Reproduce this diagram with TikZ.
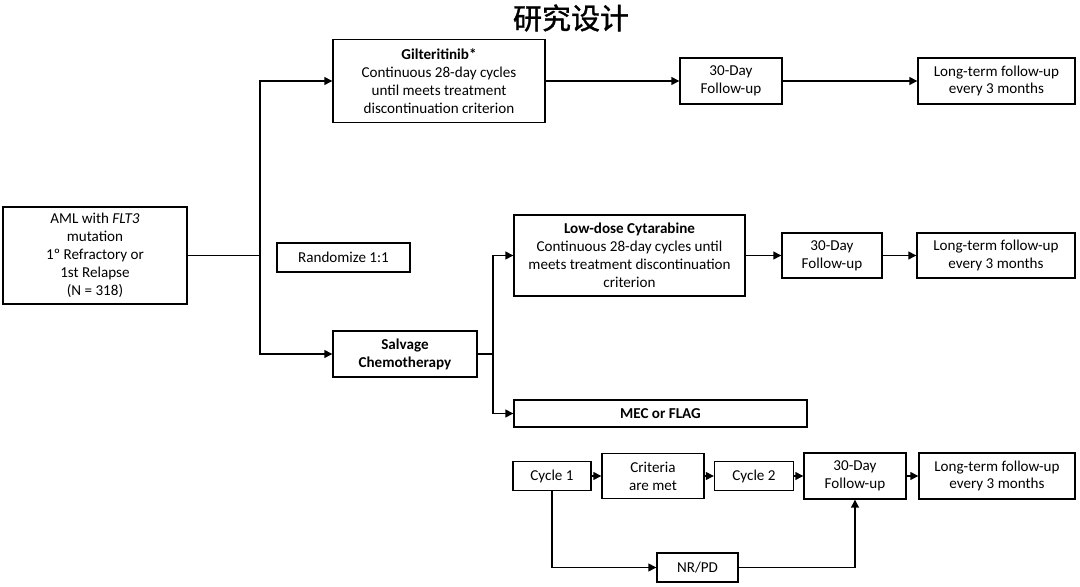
\documentclass[tikz,border=0pt]{standalone}
\usepackage{fontspec}
\setmainfont{Carlito}
\newfontfamily\cjk[FakeBold=1.3]{Noto Sans CJK SC}
\usepackage{tikz}
\usetikzlibrary{arrows.meta}

\begin{document}
\begin{tikzpicture}[x=0.02cm, y=-0.02cm,
        caja/.style={draw, line width=0.8pt, align=center, inner sep=1pt,
            font=\fontsize{8.6}{10.2}\selectfont},
        flecha/.style={line width=0.7pt, -{Triangle[length=4.5pt,width=4.5pt]}},
        linea/.style={line width=0.7pt}]
        \useasboundingbox (0,0) rectangle (1080,587);

        % Titulo
        \node[font=\cjk\fontsize{16.5}{18}\selectfont] (titulo) at (571,18) {研究设计};

        % Poblacion y aleatorizacion
        \node[caja, minimum width=3.68cm, minimum height=1.94cm] (aml) at (95,255.5)
            {AML with \textit{FLT3}\\mutation\\1º Refractory or\\1st Relapse\\(N = 318)};
        \node[caja, minimum width=2.66cm, minimum height=0.58cm] (rand) at (343.5,257.5) {Randomize 1:1};

        % Rama gilteritinib
        \node[caja, minimum width=4.24cm, minimum height=1.66cm] (gilt) at (439,81)
            {\textbf{Gilteritinib*}\\Continuous 28-day cycles\\until meets treatment\\discontinuation criterion};
        \node[caja, minimum width=2.04cm, minimum height=0.92cm] (segA) at (731,81) {30-Day\\Follow-up};
        \node[caja, minimum width=3.14cm, minimum height=0.92cm] (largoA) at (996.5,81) {Long-term follow-up\\every 3 months};

        % Rama quimioterapia de rescate
        \node[caja, minimum width=2.88cm, minimum height=0.92cm] (salv) at (405,354) {\textbf{Salvage}\\\textbf{Chemotherapy}};
        \node[caja, minimum width=4.62cm, minimum height=1.62cm] (ldac) at (629.5,255.5)
            {\textbf{Low-dose Cytarabine}\\Continuous 28-day cycles until\\meets treatment discontinuation\\criterion};
        \node[caja, minimum width=2.0cm, minimum height=0.9cm] (segB) at (832,255.5) {30-Day\\Follow-up};
        \node[caja, minimum width=3.16cm, minimum height=0.9cm] (largoB) at (996,255.5) {Long-term follow-up\\every 3 months};
        \node[caja, minimum width=5.86cm, minimum height=0.54cm] (mec) at (660.5,413.5) {\textbf{MEC or FLAG}};

        % Ciclos MEC / FLAG
        \node[caja, minimum width=1.56cm, minimum height=0.58cm] (ciclo1) at (552,476) {Cycle 1};
        \node[caja, minimum width=2.04cm, minimum height=0.9cm] (crit) at (653,476) {Criteria\\are met};
        \node[caja, minimum width=1.58cm, minimum height=0.58cm] (ciclo2) at (754,476) {Cycle 2};
        \node[caja, minimum width=2.04cm, minimum height=0.92cm] (segC) at (855,476) {30-Day\\Follow-up};
        \node[caja, minimum width=3.12cm, minimum height=0.92cm] (largoC) at (997,476) {Long-term follow-up\\every 3 months};
        \node[caja, minimum width=1.62cm, minimum height=0.58cm] (nrpd) at (697.5,567.5) {NR/PD};

        % Bifurcaciones
        \coordinate (div1) at (260,255.5);
        \coordinate (div2) at (493,354);
        \draw[linea] (aml) -- (div1);
        \draw[flecha] (div1) |- (gilt);
        \draw[flecha] (div1) |- (salv);
        \draw[linea] (salv) -- (div2);
        \draw[flecha] (div2) |- (ldac);
        \draw[flecha] (div2) |- (mec);

        % Flechas horizontales
        \draw[flecha] (gilt) -- (segA);
        \draw[flecha] (segA) -- (largoA);
        \draw[flecha] (ldac) -- (segB);
        \draw[flecha] (segB) -- (largoB);
        \draw[flecha] (ciclo1) -- (crit);
        \draw[flecha] (crit) -- (ciclo2);
        \draw[flecha] (ciclo2) -- (segC);
        \draw[flecha] (segC) -- (largoC);

        % Sin respuesta / progresion
        \draw[flecha] (ciclo1) |- (nrpd);
        \draw[flecha] (nrpd) -| (segC);
\end{tikzpicture}
\end{document}
